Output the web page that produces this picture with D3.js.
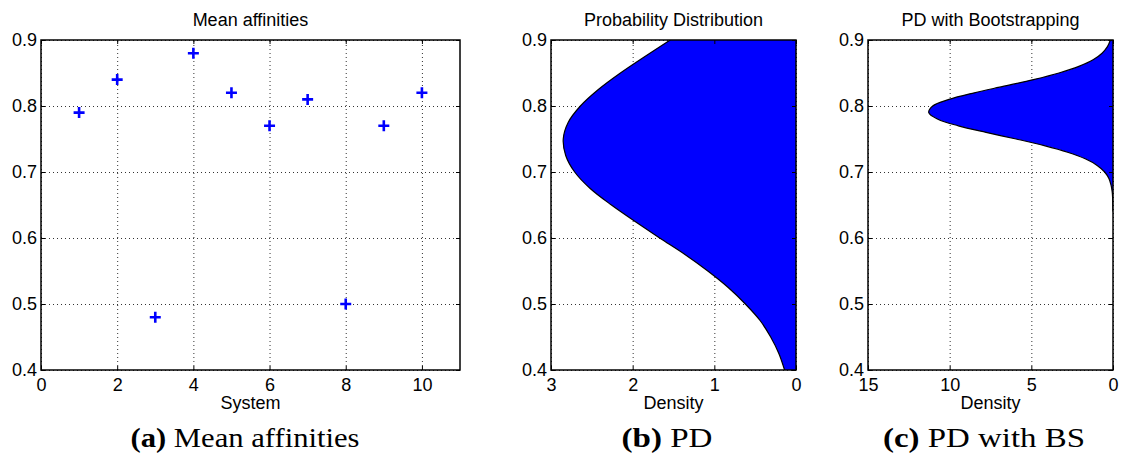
<!DOCTYPE html>
<html>
<head>
<meta charset="utf-8">
<script src="https://cdn.jsdelivr.net/npm/d3@7/dist/d3.min.js"></script>
<style>
  body { margin: 0; background: #fff; }
  svg { display: block; }
  .tick text { font-family: "Liberation Sans", Arial, sans-serif; font-size: 18px; fill: #000; }
  .lbl { font-family: "Liberation Sans", Arial, sans-serif; font-size: 18px; fill: #000; }
  .cap { font-family: "Liberation Serif", "Times New Roman", serif; font-size: 28px; fill: #000; }
  .grid line { stroke: #333; stroke-width: 1; stroke-dasharray: 1,3; }
  .grid path { display: none; }
</style>
</head>
<body>
<svg id="fig" width="1121" height="459"></svg>
<script>
// (a) mean affinity per system
var systems = [1, 2, 3, 4, 5, 6, 7, 8, 9, 10];
var affinities = [0.79, 0.84, 0.48, 0.88, 0.82, 0.77, 0.81, 0.50, 0.77, 0.82];

// (b) probability distribution
var pdAffinity = [0.400, 0.425, 0.450, 0.475, 0.500, 0.525, 0.550, 0.575, 0.600, 0.625, 0.650,
                  0.675, 0.700, 0.725, 0.750, 0.775, 0.800, 0.825, 0.850, 0.875, 0.900];
var pdDensity = [0.14, 0.21, 0.31, 0.44, 0.62, 0.83, 1.08, 1.36, 1.67, 1.97, 2.26,
                 2.52, 2.71, 2.82, 2.85, 2.79, 2.64, 2.42, 2.15, 1.85, 1.54];

// (c) distribution with bootstrapping
var bsAffinity = [0.64, 0.65, 0.66, 0.67, 0.68, 0.69, 0.70, 0.71, 0.72, 0.73, 0.74, 0.75, 0.76,
                  0.77, 0.78, 0.79, 0.80, 0.81, 0.82, 0.83, 0.84, 0.85, 0.86, 0.87, 0.88, 0.89, 0.90];
var bsDensity = [0.00, 0.01, 0.02, 0.05, 0.12, 0.25, 0.51, 0.97, 1.70, 2.78, 4.21, 5.93, 7.77,
                 9.47, 10.72, 11.28, 11.04, 10.04, 8.49, 6.67, 4.87, 3.31, 2.09, 1.22, 0.67, 0.34, 0.16];

var yTicks = [0.4, 0.5, 0.6, 0.7, 0.8, 0.9];

var svg = d3.select("#fig");
var plotTop = 40, plotBottom = 370;

function panel(opt) {
  var g = svg.append("g");
  var x = d3.scaleLinear().domain(opt.xDomain).range([opt.left, opt.right]);
  var y = d3.scaleLinear().domain([0.4, 0.9]).range([plotBottom, plotTop]);
  var h = plotBottom - plotTop, w = opt.right - opt.left;

  // grid
  g.append("g").attr("class", "grid")
    .attr("transform", "translate(0," + plotBottom + ")")
    .call(d3.axisBottom(x).tickValues(opt.xTicks).tickSize(-h).tickFormat(""));
  g.append("g").attr("class", "grid")
    .attr("transform", "translate(" + opt.left + ",0)")
    .call(d3.axisLeft(y).tickValues(yTicks).tickSize(-w).tickFormat(""));

  var clipId = "clip" + opt.left;
  svg.append("clipPath").attr("id", clipId)
    .append("rect").attr("x", opt.left).attr("y", plotTop).attr("width", w).attr("height", h);

  var marks = g.append("g").attr("clip-path", "url(#" + clipId + ")");
  opt.draw(marks, x, y);

  // box
  g.append("rect")
    .attr("x", opt.left).attr("y", plotTop).attr("width", w).attr("height", h)
    .attr("fill", "none").attr("stroke", "#000").attr("stroke-width", 1.5);

  // ticks and labels
  var fmt = d3.format(".1f");
  g.append("g").attr("transform", "translate(0," + plotBottom + ")")
    .call(d3.axisBottom(x).tickValues(opt.xTicks).tickSize(-4).tickPadding(8).tickFormat(d3.format("d")))
    .call(function(a) { a.select(".domain").remove(); });
  g.append("g").attr("transform", "translate(0," + plotTop + ")")
    .call(d3.axisTop(x).tickValues(opt.xTicks).tickSize(-4).tickFormat(""))
    .call(function(a) { a.select(".domain").remove(); });
  g.append("g").attr("transform", "translate(" + opt.left + ",0)")
    .call(d3.axisLeft(y).tickValues(yTicks).tickSize(-4).tickPadding(4).tickFormat(fmt))
    .call(function(a) { a.select(".domain").remove(); });
  g.append("g").attr("transform", "translate(" + opt.right + ",0)")
    .call(d3.axisRight(y).tickValues(yTicks).tickSize(-4).tickFormat(""))
    .call(function(a) { a.select(".domain").remove(); });
  g.selectAll(".tick line").attr("stroke", "#000");

  var cx = (opt.left + opt.right) / 2;
  g.append("text").attr("class", "lbl").attr("x", cx).attr("y", 26)
    .attr("text-anchor", "middle").text(opt.title);
  g.append("text").attr("class", "lbl").attr("x", cx).attr("y", 409)
    .attr("text-anchor", "middle").text(opt.xLabel);

  var cap = g.append("text").attr("class", "cap").attr("x", opt.capX).attr("y", 447)
    .attr("text-anchor", "middle")
    .attr("textLength", opt.capWidth).attr("lengthAdjust", "spacingAndGlyphs");
  cap.append("tspan").attr("font-weight", "bold").text(opt.capTag);
  cap.append("tspan").text(" " + opt.caption);
}

function densityFill(ys, ds) {
  return function(marks, x, y) {
    var pts = ys.map(function(v, i) { return { a: v, d: ds[i] }; });
    var area = d3.area()
      .y(function(p) { return y(p.a); })
      .x0(x(0))
      .x1(function(p) { return x(p.d); })
      .curve(d3.curveCatmullRom);
    var line = d3.line()
      .y(function(p) { return y(p.a); })
      .x(function(p) { return x(p.d); })
      .curve(d3.curveCatmullRom);
    marks.append("path").datum(pts).attr("d", area).attr("fill", "#0000ff");
    marks.append("path").datum(pts).attr("d", line)
      .attr("fill", "none").attr("stroke", "#000").attr("stroke-width", 1.2);
  };
}

panel({
  left: 41, right: 460, xDomain: [0, 11], xTicks: [0, 2, 4, 6, 8, 10],
  title: "Mean affinities", xLabel: "System",
  capX: 245, capWidth: 229, capTag: "(a)", caption: "Mean affinities",
  draw: function(marks, x, y) {
    var pts = systems.map(function(s, i) { return [x(s), y(affinities[i])]; });
    marks.selectAll(".plus").data(pts).enter().append("path")
      .attr("class", "plus")
      .attr("d", function(p) {
        return "M" + (p[0] - 5.5) + "," + p[1] + "H" + (p[0] + 5.5) +
               "M" + p[0] + "," + (p[1] - 5.5) + "V" + (p[1] + 5.5);
      })
      .attr("stroke", "#0000ff").attr("stroke-width", 2.6).attr("fill", "none");
  }
});

panel({
  left: 551, right: 796, xDomain: [3, 0], xTicks: [3, 2, 1, 0],
  title: "Probability Distribution", xLabel: "Density",
  capX: 667, capWidth: 91, capTag: "(b)", caption: "PD",
  draw: densityFill(pdAffinity, pdDensity)
});

panel({
  left: 868, right: 1113, xDomain: [15, 0], xTicks: [15, 10, 5, 0],
  title: "PD with Bootstrapping", xLabel: "Density",
  capX: 984, capWidth: 202, capTag: "(c)", caption: "PD with BS",
  draw: densityFill(bsAffinity, bsDensity)
});
</script>
</body>
</html>
